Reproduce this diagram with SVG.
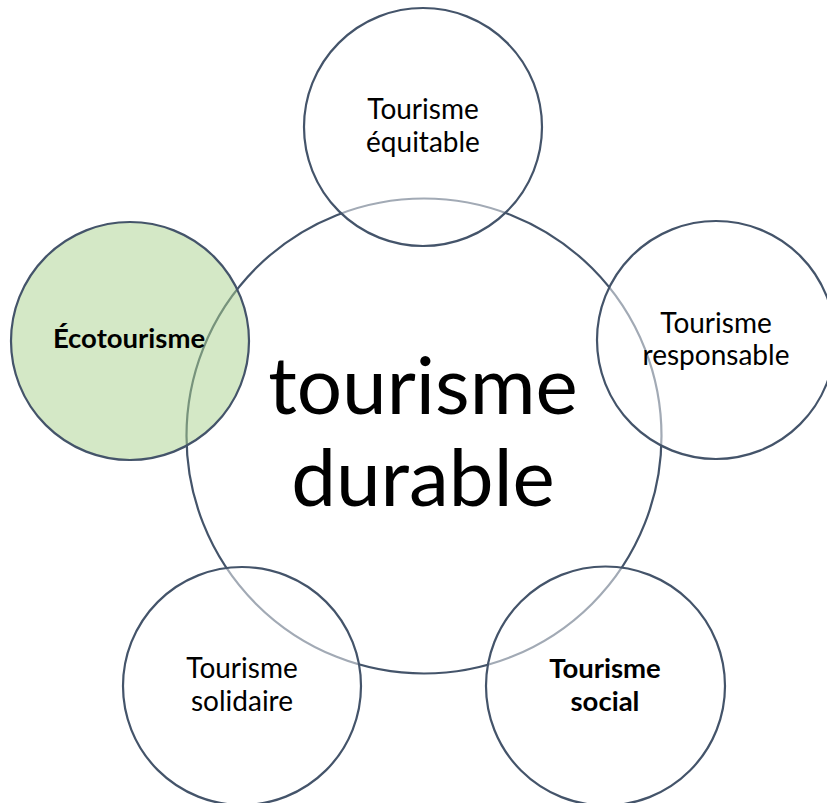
<svg xmlns="http://www.w3.org/2000/svg" width="827" height="803" viewBox="0 0 827 803">
<style>
.ring{stroke:#44546A;stroke-width:2.2}
.sat{fill:#FFFFFF;fill-opacity:0.5}
.eco{fill:#A9D18E;fill-opacity:0.5}
.lbl{font-family:Lato,"Liberation Sans",sans-serif;font-size:28px;fill:#000;text-anchor:middle}
.b{font-weight:bold;font-size:27.5px}
.big{font-family:Lato,"Liberation Sans",sans-serif;font-size:80px;fill:#000;text-anchor:middle}
</style>
<rect width="827" height="803" fill="#FFFFFF"/>
<g id="connectors"></g>
<g id="center">
<circle class="ring" cx="424" cy="436" r="237.5" fill="#FFFFFF"/>
<text class="big" x="423" y="414">tourisme</text>
<text class="big" x="423" y="506">durable</text>
</g>
<g id="equitable">
<circle class="ring sat" cx="423" cy="127" r="119"/>
<text class="lbl" x="423" y="119">Tourisme</text>
<text class="lbl" x="423" y="152">équitable</text>
</g>
<g id="responsable">
<circle class="ring sat" cx="716" cy="340" r="119"/>
<text class="lbl" x="716" y="333">Tourisme</text>
<text class="lbl" x="716" y="365">responsable</text>
</g>
<g id="ecotourisme">
<circle class="ring eco" cx="130" cy="341" r="119"/>
<text class="lbl b" x="129" y="348">Écotourisme</text>
</g>
<g id="solidaire">
<circle class="ring sat" cx="242" cy="686" r="119"/>
<text class="lbl" x="242" y="678">Tourisme</text>
<text class="lbl" x="242" y="711">solidaire</text>
</g>
<g id="social">
<circle class="ring sat" cx="605.5" cy="686" r="119.5"/>
<text class="lbl b" x="605" y="678">Tourisme</text>
<text class="lbl b" x="605" y="711">social</text>
</g>
</svg>
